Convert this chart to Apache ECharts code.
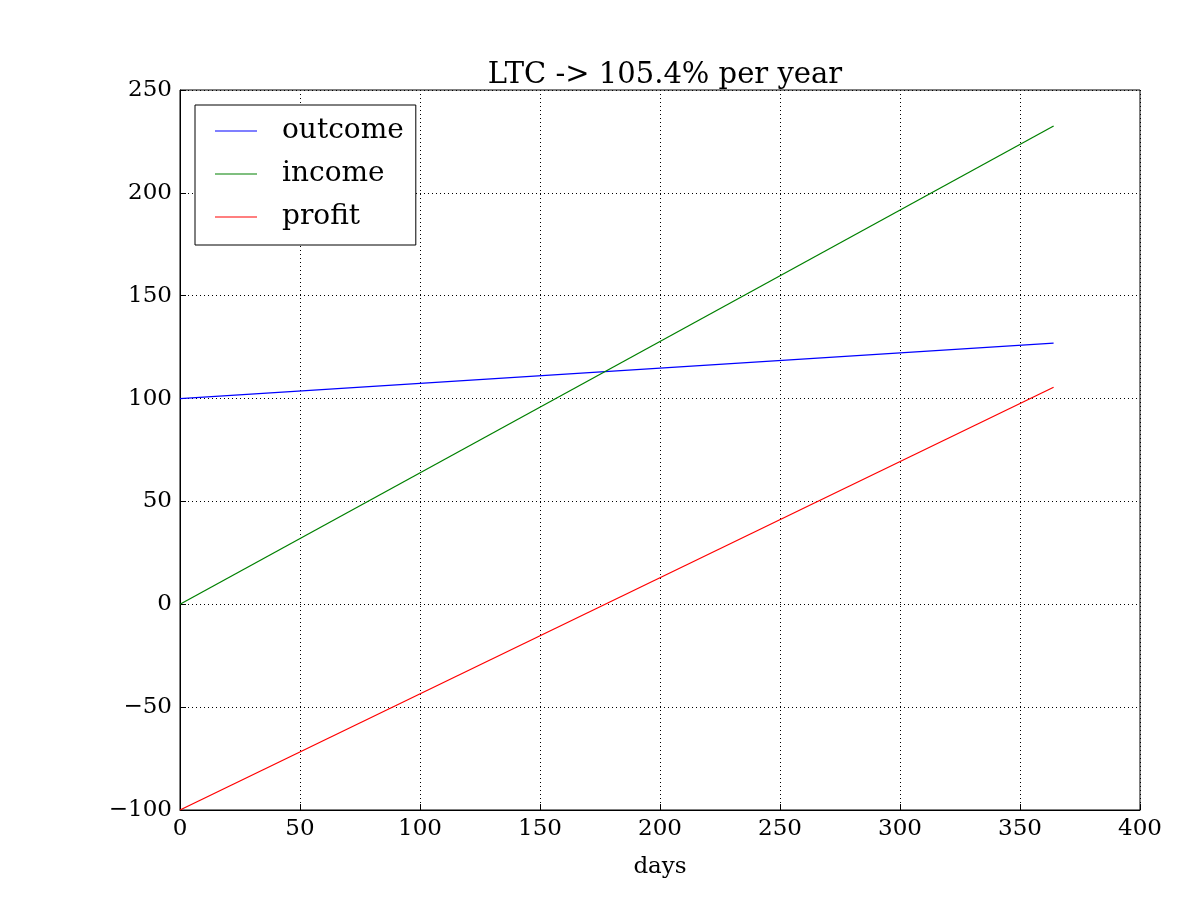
<!DOCTYPE html>
<html>
<head>
<meta charset="UTF-8">
<title>LTC</title>
<script src="https://cdn.jsdelivr.net/npm/echarts@6/dist/echarts.min.js"></script>
<style>
    html, body { margin: 0; padding: 0; background: #fff; }
    #chart { width: 1200px; height: 900px; }
</style>
</head>
<body>
<div id="chart"></div>
<script>
    // data
    const days = [0, 364];
    const outcome = [100, 127];
    const income = [0, 232.5];
    const profit = [-100, 105.5];

    const font = 'DejaVu Serif';
    const pair = (ys) => days.map((d, i) => [d, ys[i]]);
    const lineIcon = 'path://M0,0 L40,0 L40,1 L0,1 Z';

    let chart = echarts.init(document.getElementById('chart'));
    let option = {
        backgroundColor: '#fff',
        animation: false,
        title: {
            text: 'LTC -> 105.4% per year',
            left: 660,
            textAlign: 'center',
            top: 56,
            textStyle: { fontFamily: font, fontSize: 29, fontWeight: 'normal', color: '#000' }
        },
        grid: {
            left: 180, right: 60, top: 90, bottom: 90,
            show: true, borderColor: '#000', borderWidth: 1, backgroundColor: 'transparent'
        },
        legend: {
            left: 195, top: 105,
            orient: 'vertical',
            padding: [12, 12, 14, 20],
            itemGap: 15,
            itemWidth: 42, itemHeight: 1.5,
            icon: lineIcon,
            borderColor: '#000', borderWidth: 1, borderRadius: 0,
            backgroundColor: '#fff',
            textStyle: { fontFamily: font, fontSize: 28, color: '#000', padding: [0, 0, 0, 20] },
            data: ['outcome', 'income', 'profit']
        },
        xAxis: {
            type: 'value', min: 0, max: 400, interval: 50,
            name: 'days', nameLocation: 'middle', nameGap: 46,
            nameTextStyle: { fontFamily: font, fontSize: 23, color: '#000' },
            axisLine: { show: true, onZero: false, lineStyle: { color: '#000' } },
            axisTick: { inside: true, length: 6, lineStyle: { color: '#000' } },
            axisLabel: { fontFamily: font, fontSize: 23, color: '#000', margin: 8 },
            splitLine: { show: true, lineStyle: { color: '#000', type: [1, 3], width: 1 } }
        },
        yAxis: {
            type: 'value', min: -100, max: 250, interval: 50,
            axisLine: { show: true, onZero: false, lineStyle: { color: '#000' } },
            axisTick: { inside: true, length: 6, lineStyle: { color: '#000' } },
            axisLabel: {
                fontFamily: font, fontSize: 23, color: '#000', margin: 8,
                formatter: v => v < 0 ? '\u2212' + Math.abs(v) : String(v)
            },
            splitLine: { show: true, lineStyle: { color: '#000', type: [1, 3], width: 1 } }
        },
        series: [
            { name: 'outcome', type: 'line', data: pair(outcome), showSymbol: false, color: '#0000ff', lineStyle: { width: 1.3 } },
            { name: 'income', type: 'line', data: pair(income), showSymbol: false, color: '#008000', lineStyle: { width: 1.3 } },
            { name: 'profit', type: 'line', data: pair(profit), showSymbol: false, color: '#ff0000', lineStyle: { width: 1.3 } }
        ]
    };
    chart.setOption(option);
</script>
</body>
</html>
